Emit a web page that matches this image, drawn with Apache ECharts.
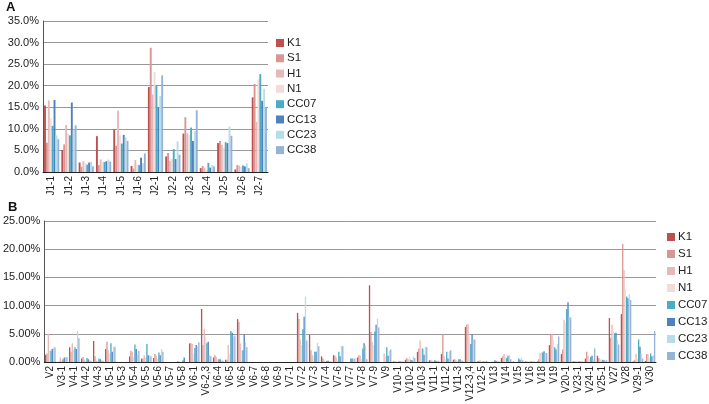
<!DOCTYPE html>
<html><head><meta charset="utf-8">
<script src="https://cdn.jsdelivr.net/npm/echarts@6/dist/echarts.min.js"></script>
<style>html,body{margin:0;padding:0;background:#fff}#c{width:709px;height:404px}</style>
</head><body><div id="c"></div>
<script>
const seriesNames = ['K1','S1','H1','N1','CC07','CC13','CC23','CC38'];
const colors = ['#c0504d','#d99694','#e6b9b8','#f2dcdb','#4bacc6','#4f81bd','#b7dee8','#95b3d7'];

const catsA = ['J1-1','J1-2','J1-3','J1-4','J1-5','J1-6','J2-1','J2-2','J2-3','J2-4','J2-5','J2-6','J2-7'];
const A_K1   = [15.4, 5.1, 2.2, 8.3, 9.9, 1.4, 19.7, 3.6, 8.9, 0.9, 6.7, 0.6, 17.3];
const A_S1   = [6.8, 6.4, 1.2, 1.6, 6.1, 0.8, 28.8, 4.4, 12.7, 1.4, 7.2, 1.6, 20.4];
const A_H1   = [16.6, 10.9, 2.5, 2.9, 14.2, 2.8, 18.0, 2.6, 9.0, 1.0, 6.3, 1.5, 11.6];
const A_N1   = [12.4, 9.0, 2.0, 2.4, 8.5, 1.7, 23.2, 3.0, 8.6, 0.5, 5.6, 1.2, 21.5];
const A_CC07 = [10.7, 8.5, 1.7, 2.3, 6.6, 1.6, 20.0, 5.3, 10.3, 2.1, 6.9, 1.5, 22.7];
const A_CC13 = [16.7, 16.1, 2.2, 2.5, 8.6, 3.3, 15.0, 3.0, 7.2, 1.0, 6.7, 1.3, 16.5];
const A_CC23 = [8.5, 9.8, 2.4, 2.9, 8.0, 2.0, 17.6, 7.1, 9.5, 1.6, 10.5, 2.0, 19.3];
const A_CC38 = [7.6, 10.8, 1.3, 2.4, 7.2, 4.3, 22.4, 4.0, 14.3, 1.3, 8.4, 0.9, 15.0];

const catsB = ['V2','V3-1','V4-1','V4-2','V4-3','V5-1','V5-3','V5-4','V5-5','V5-6','V5-7','V5-8','V6-1','V6-2,3','V6-4','V6-5','V6-6','V6-7','V6-8','V6-9','V7-1','V7-2','V7-3','V7-4','V7-6','V7-7','V7-8','V7-9','V9','V10-1','V10-2','V10-3','V11-1','V11-2','V11-3','V12-3,4','V12-5','V13','V14','V15','V16','V18','V19','V20-1','V23-1','V24-1','V25-1','V27','V28','V29-1','V30'];
const B_K1   = [1.3,0,2.6,0.6,3.7,2.3,0,1.0,0.6,0.7,0,0.1,3.3,9.4,0.8,0.4,7.6,0,0,0,0,8.7,4.8,1.0,1.2,0,0.8,13.6,0,0.1,0.4,1.8,0.3,1.4,0.4,6.2,0.1,0,0.7,0.1,0.1,0.1,3.0,1.4,0.1,0.6,1.1,7.8,8.5,0.1,0.2];
const B_S1   = [1.5,0.1,1.8,0.9,1.0,3.6,0,2.0,0.6,1.4,0,0.1,3.3,3.0,1.2,0.4,7.1,0,0,0,0,7.6,2.1,0.6,1.1,0,1.2,5.3,0,0.1,0.7,2.4,0.3,4.9,0.5,6.6,0.2,0,1.0,0,0.1,0.5,4.9,2.2,0.1,1.8,0.7,4.3,20.9,0.3,1.4];
const B_H1   = [5.0,0.8,3.3,0.4,0.2,2.1,0,1.8,1.2,1.1,0,0,3.2,5.9,0.9,3.0,3.3,0,0,0,0,4.0,1.3,0.2,0.8,0,1.1,3.6,1.5,0.1,0.5,3.8,0.2,1.0,0.3,6.7,0.3,0.1,1.4,0,0.1,1.6,4.9,7.5,0.2,1.1,0.5,6.6,16.3,1.4,1.4];
const B_N1   = [2.0,0.3,2.2,0.2,0.1,1.5,0,0.9,0.8,0.6,0,0,1.5,4.5,0.5,1.5,2.0,0,0,0,0,3.0,1.0,0.2,0.3,0,0.5,3.0,1.0,0.1,1.0,2.5,0.1,0.5,0.1,4.5,0.1,0.1,0.9,0,0.1,1.8,4.0,7.0,0.1,0.5,0.3,5.5,13.0,0.5,0.8];
const B_CC07 = [2.0,0.5,2.6,0.7,0.6,3.3,0,3.1,3.2,1.7,0,0.3,2.5,3.3,0.5,5.5,2.1,0,0,0,0,5.8,1.8,0.2,1.8,0.6,2.4,5.4,2.6,0.1,0.4,2.4,0.3,1.8,0.5,3.2,0.1,0.3,0.7,0.6,0.1,1.7,2.6,9.4,0.1,0.9,0.4,5.1,11.6,4.0,1.5];
const B_CC13 = [2.3,0.8,2.3,0.5,0.5,1.8,0,2.3,1.2,1.2,0,0.8,3.0,3.6,0.5,5.2,4.9,0,0,0,0,8.0,1.8,0.2,1.0,0.6,3.3,6.6,1.1,0.1,0.3,1.3,0.2,0.6,0.5,4.9,0.1,0.2,1.1,0.4,0.1,1.9,2.2,10.6,0.1,1.1,0.3,5.2,11.3,2.7,1.0];
const B_CC23 = [2.5,0.9,5.5,0.3,0.3,2.7,0,1.3,1.2,2.3,0,0,2.8,1.2,0.3,4.5,3.5,0,0,0,0,11.6,3.4,0.1,2.9,0.6,2.9,7.7,2.0,0.1,1.0,2.7,0.2,1.9,0.3,4.0,0.1,0.2,1.2,0.7,0.1,1.6,3.2,8.0,0.1,0.5,0.3,4.0,12.0,1.5,1.2];
const B_CC38 = [2.6,0.9,4.2,0.2,0.2,2.7,0,2.0,1.0,1.8,0,0,3.5,1.0,0.2,4.7,2.6,0,0,0,0,3.8,2.8,0.1,2.8,0.6,0.5,6.1,2.2,0.1,0.7,2.6,0.2,2.1,0.2,4.0,0.2,0.1,0.5,0.3,0.1,1.6,4.5,7.9,0.1,2.4,0.3,3.1,11.0,0.6,5.5];

const dataA = [A_K1,A_S1,A_H1,A_N1,A_CC07,A_CC13,A_CC23,A_CC38];
const dataB = [B_K1,B_S1,B_H1,B_N1,B_CC07,B_CC13,B_CC23,B_CC38];

const FONT = 'Liberation Sans';
const chart = echarts.init(document.getElementById('c'), null, {renderer:'canvas'});
const series = [];
seriesNames.forEach((n,i)=>{
  series.push({name:n,type:'bar',xAxisIndex:0,yAxisIndex:0,data:dataA[i],
    itemStyle:{color:colors[i]},barGap:'0%',barCategoryGap:'12%',animation:false});
});
seriesNames.forEach((n,i)=>{
  series.push({name:n,type:'bar',xAxisIndex:1,yAxisIndex:1,data:dataB[i],
    itemStyle:{color:colors[i]},barGap:'0%',barCategoryGap:'12%',animation:false});
});
const yAxisCommon = {
  type:'value',
  axisLine:{show:true,lineStyle:{color:'#555',width:1}},
  axisTick:{show:false},
  splitLine:{lineStyle:{color:'#999',width:1}},
  axisLabel:{color:'#222',fontFamily:FONT,fontSize:11,margin:4}
};
const xAxisCommon = {
  type:'category',
  axisLine:{lineStyle:{color:'#222',width:1}},
  axisTick:{show:false},
  axisLabel:{rotate:90,interval:0,color:'#222',fontFamily:FONT,fontSize:10,margin:4}
};
chart.setOption({
  animation:false,
  backgroundColor:'#fff',
  title:[
    {text:'A',left:6,top:1,padding:0,textStyle:{fontFamily:FONT,fontWeight:'bold',fontSize:13,color:'#111'}},
    {text:'B',left:8,top:201,padding:0,textStyle:{fontFamily:FONT,fontWeight:'bold',fontSize:13,color:'#111'}}
  ],
  grid:[
    {left:43,top:21,width:225,height:151},
    {left:43,top:221,width:613,height:146}
  ],
  xAxis:[
    Object.assign({gridIndex:0,data:catsA},xAxisCommon),
    Object.assign({gridIndex:1,data:catsB},xAxisCommon)
  ],
  yAxis:[
    Object.assign({gridIndex:0,min:0,max:35,interval:5},yAxisCommon,
      {axisLabel:Object.assign({},yAxisCommon.axisLabel,{formatter:v=>v.toFixed(1)+'%'})}),
    Object.assign({gridIndex:1,min:0,max:25,interval:5},yAxisCommon,
      {axisLabel:Object.assign({},yAxisCommon.axisLabel,{formatter:v=>v.toFixed(2)+'%'})})
  ],
  legend:[
    {data:seriesNames,orient:'vertical',left:276,top:37,padding:0,itemWidth:8,itemHeight:8,itemGap:3.3,
     icon:'rect',textStyle:{fontFamily:FONT,fontSize:11.5,lineHeight:12,color:'#222',padding:[0,0,0,-2]},selectedMode:false},
    {data:seriesNames,orient:'vertical',left:667,top:231,padding:0,itemWidth:8,itemHeight:8,itemGap:5,
     icon:'rect',textStyle:{fontFamily:FONT,fontSize:11.5,lineHeight:12,color:'#222',padding:[0,0,0,-2]},selectedMode:false}
  ],
  series:series
});
</script></body></html>
